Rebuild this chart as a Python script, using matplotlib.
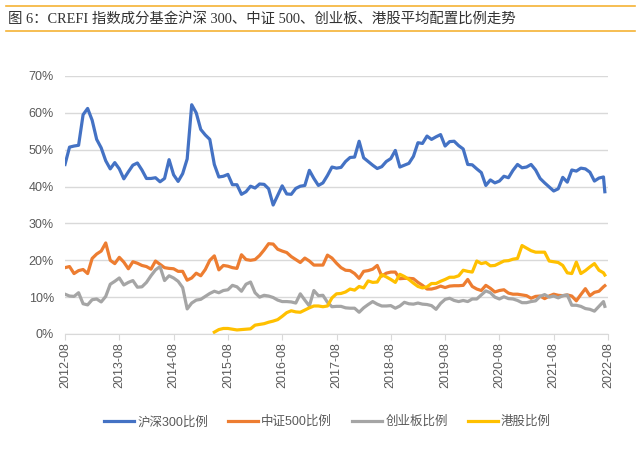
import numpy as np
import matplotlib
matplotlib.use('Agg')
import matplotlib.pyplot as plt
from matplotlib.lines import Line2D

# monthly values, 2012-08 .. 2022-07, plus the latest reading
hs300 = [46, 50.7, 51, 51.2, 59.5, 61.2, 58, 52.8, 50.5, 47,
         44.8, 46.5, 44.8, 42.1, 44, 45.8, 46.4, 44.5, 42.2, 42.2,
         42.4, 41.3, 42.2, 47.3, 43.2, 41.4, 43.5, 47.5, 62.2, 60,
         55.5, 54, 52.8, 46, 42.6, 42.8, 43.3, 40.5, 40.5, 37.9,
         38.6, 40.1, 39.6, 40.7, 40.6, 39.4, 35, 37.6, 40.2, 38,
         37.9, 39.5, 40.1, 40.3, 44.4, 42.2, 40.3, 41, 43, 45.3,
         45, 45.2, 46.8, 47.9, 48, 52.3, 47.8, 46.8, 45.8, 44.9,
         45.4, 46.8, 47.6, 49.8, 45.3, 45.8, 46.3, 48.2, 51.9, 51.7,
         53.7, 52.8, 53.5, 54.1, 51, 52.2, 52.3, 51.1, 50.2, 46,
         45.9, 44.8, 43.8, 40.3, 41.8, 41, 41.5, 42.8, 42.4, 44.4,
         46, 45.1, 45.3, 46, 44.5, 42.2, 41, 39.9, 38.8, 39.4,
         42.5, 41.2, 44.5, 44.2, 45, 44.8, 43.9, 41.5, 42.3, 42.6,
         38.6]

zz500 = [18, 18.3, 16.4, 17.2, 17.5, 16.4, 20.5, 21.7, 22.5, 24.7,
         20, 19.1, 20.8, 19.5, 17.7, 19.6, 19.2, 18.6, 18.3, 17.6,
         19.8, 18.9, 18, 17.8, 17.7, 17, 17, 14.6, 15.2, 16.5,
         15.8, 17.5, 20, 21.2, 17.4, 18.6, 18.4, 18, 17.8, 21.5,
         20.2, 20, 20.2, 21.3, 22.8, 24.5, 24.4, 23, 22.5, 22.1,
         21, 20.2, 19.4, 20.6, 19.8, 18.7, 18.7, 18.7, 21.4, 20.6,
         19.2, 18, 17.3, 17.2, 16.4, 15.1, 17, 17.2, 17.6, 18.6,
         15.7, 16.5, 16.8, 16.8, 15, 15.1, 15.1, 15, 14, 13.2,
         12.2, 12.2, 12.5, 13, 12.6, 13, 13.1, 13.1, 13.2, 14.8,
         12.9, 12.2, 11.8, 13.2, 12.4, 11.4, 11.8, 12, 11.1, 10.8,
         10.8, 10.6, 10.4, 9.7, 10.2, 10.3, 9.6, 10.3, 10.8, 10.5,
         10.4, 10.6, 10.3, 9, 10.7, 12.3, 10.4, 11.3, 11.6, 12.8,
         13.1]

cyb = [10.8, 10.3, 10.2, 11.2, 8.2, 7.9, 9.3, 9.5, 8.7, 10.2,
       13.5, 14.3, 15.2, 13.3, 14, 14.5, 12.7, 12.8, 14, 15.8,
       17.4, 18.3, 14.5, 15.8, 15.2, 14.3, 12.6, 6.8, 8.4, 9.2,
       9.4, 10.2, 11, 11.6, 11.2, 11.8, 12, 13.2, 12.8, 11.6,
       13.5, 14.1, 11.2, 10, 10.5, 10.3, 9.9, 9.2, 8.8, 8.8,
       8.7, 8.4, 10.9, 9.2, 7.6, 11.8, 10.4, 10.5, 8.6, 7.4,
       7.5, 7.5, 7.1, 7, 7, 5.9, 7.1, 8, 8.8, 8.1,
       7.6, 7.6, 7.7, 7, 7.6, 8.6, 8.2, 8.1, 8.4, 8.1,
       8, 7.7, 6.7, 8.3, 9.4, 9.7, 9.1, 8.8, 9.1, 8.8,
       9.5, 9.5, 10.6, 11.7, 11.2, 10, 9.5, 10.1, 9.6, 9.5,
       9.1, 8.5, 8.5, 8.8, 9, 10.2, 10.7, 10, 10.3, 9.8,
       10.4, 10.6, 7.8, 7.8, 7.5, 6.9, 6.7, 6.2, 7.5, 8.8,
       7.5]

hk = [np.nan] * 33 + [
      0.5, 1.2, 1.5, 1.5, 1.3, 1.1, 1.2,
      1.3, 1.4, 2.4, 2.6, 2.8, 3.2, 3.5, 3.9, 4.8, 5.8,
      6.3, 6, 5.9, 6.5, 7.1, 7.6, 7.6, 7.4, 7.6, 9.8,
      10.9, 11, 11.4, 12.2, 11.9, 12.9, 12.5, 14.4, 14, 14.1,
      16.1, 15.5, 14.8, 14, 16.2, 15.6, 14.8, 13.8, 12.9, 12.5,
      12.8, 13.7, 13.7, 14.3, 14.8, 15.4, 15.4, 15.8, 17.3, 17,
      16.8, 19.8, 19.1, 19.4, 18.5, 18.6, 19.2, 19.8, 19.9, 20.3,
      20.5, 24, 23.3, 22.6, 22.2, 22.2, 22.2, 19.8, 19.6, 19.4,
      18.6, 16.6, 16.4, 19.5, 16.4, 17.2, 18.2, 19.1, 17.3, 16.6,
      16]

tick_labels = ['2012-08', '2013-08', '2014-08', '2015-08', '2016-08', '2017-08',
               '2018-08', '2019-08', '2020-08', '2021-08', '2022-08']
series_names = ['沪深300比例', '中证500比例', '创业板比例', '港股比例']
colors = ['#4472C4', '#ED7D31', '#A5A5A5', '#FFC000']

# month index for each point; the latest reading sits just after 2022-07
x = np.append(np.arange(120), 119.3)

cjk = ['Liberation Sans', 'Noto Sans CJK SC', 'DejaVu Sans']
plt.rcParams['font.family'] = cjk

fig = plt.figure(figsize=(6.41, 4.59), dpi=100)
ax = fig.add_axes([65 / 641, 1 - 334 / 459, 543 / 641, 258 / 459])

for vals, name, c in zip([hs300, zz500, cyb, hk], series_names, colors):
    ax.plot(x, vals, color=c, lw=2.3, label=name, solid_joinstyle='round')

ax.set_xlim(0, 120)
ax.set_ylim(0, 70)
ax.set_yticks(range(0, 71, 10))
ax.set_yticklabels([f'{v}%' for v in range(0, 71, 10)])
ax.set_xticks(range(0, 121, 12))
ax.set_xticklabels(tick_labels, rotation=90)
ax.grid(axis='y', color='#D9D9D9', lw=1)
ax.set_axisbelow(True)
for s in ['top', 'right', 'left']:
    ax.spines[s].set_visible(False)
ax.spines['bottom'].set_color('#D9D9D9')
ax.tick_params(axis='y', length=0, pad=8, labelsize=9, labelcolor='#595959')
ax.tick_params(axis='x', length=4, color='#D9D9D9', pad=2, labelsize=9, labelcolor='#595959')

leg = fig.legend(loc='center', bbox_to_anchor=(0.511, 1 - 422 / 459), ncol=4,
                 frameon=False, fontsize=9, handlelength=2.4, handletextpad=0.25,
                 columnspacing=1.6)
for t in leg.get_texts():
    t.set_color('#595959')

# title band
fig.add_artist(Line2D([0.01, 0.99], [1 - 6 / 459, 1 - 6 / 459], transform=fig.transFigure,
                      color='#F5B335', lw=1.2))
fig.add_artist(Line2D([0.01, 0.99], [1 - 31 / 459, 1 - 31 / 459], transform=fig.transFigure,
                      color='#F5B335', lw=1.2))
fig.text(0.013, 1 - 18.5 / 459,
         '图 6：CREFI 指数成分基金沪深 300、中证 500、创业板、港股平均配置比例走势',
         family=['Liberation Serif', 'Noto Sans CJK SC', 'DejaVu Sans'],
         fontsize=10.4, color='#333333', va='center', ha='left')

fig.savefig('out.png', dpi=100)
